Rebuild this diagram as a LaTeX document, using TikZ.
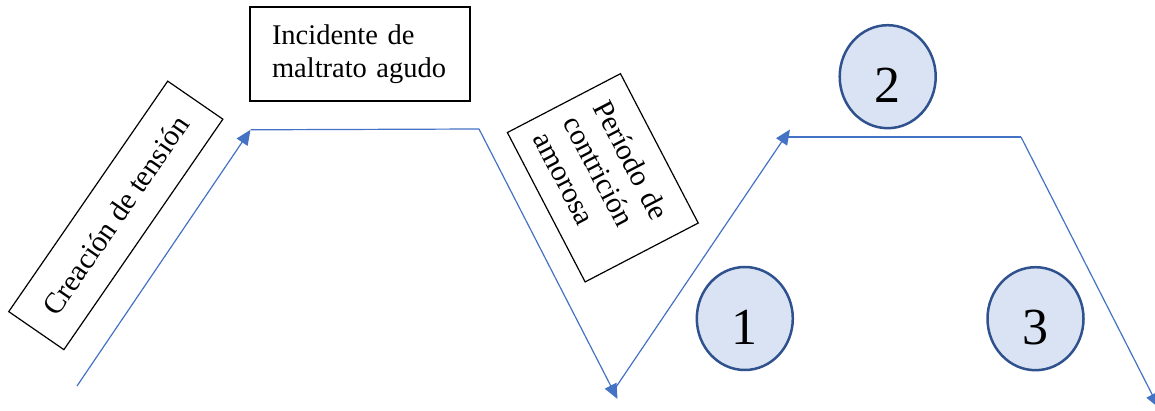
\documentclass[tikz,border=0pt]{standalone}
\usepackage{fontspec}
\setmainfont{Liberation Serif}
\usetikzlibrary{arrows.meta,shapes.geometric}
\definecolor{lineblue}{HTML}{4472C4}
\definecolor{circfill}{HTML}{DAE3F3}
\definecolor{circdraw}{HTML}{2F528F}
\begin{document}
\begin{tikzpicture}[x=1pt,y=-1pt,
  flow/.style={draw=lineblue, line width=1.2pt},
  flowarrow/.style={flow, -{Triangle[length=15pt,width=13pt]}},
  labelbox/.style={draw=black, line width=1.2pt, inner ysep=0pt, align=left,
    font=\fontsize{28.5}{33}\selectfont},
  rotbox/.style={labelbox, font=\fontsize{29.5}{34}\selectfont},
  phase/.style={ellipse, draw=circdraw, fill=circfill, line width=2.5pt,
    minimum width=96pt, minimum height=103pt, inner sep=0pt,
    text height=52pt, text depth=0pt, font=\fontsize{52}{60}\selectfont}
]
\useasboundingbox (0,0) rectangle (1155,411);

% label boxes
\node[rotbox, rotate=55.4, minimum width=280pt, minimum height=67pt, inner xsep=0pt, align=center]
  (tension) at (115.8,215.4) {Creación de tensión};
\node[labelbox, minimum width=220pt, minimum height=94pt, inner xsep=22pt, text width=176pt]
  (incidente) at (360,54) {Incidente de\\maltrato agudo};
\node[rotbox, rotate=-62.5, minimum width=168.4pt, minimum height=127.5pt, inner xsep=17pt, text width=134.4pt]
  (contricion) at (602.8,177.8) {Período de\\contrición\\amorosa};

% phase circles
\node[phase] (p1) at (744.8,318.5) {1};
\node[phase] (p2) at (887.7,76.7) {2};
\node[phase] (p3) at (1035.5,318.7) {3};

% cycle connectors
\coordinate (a0) at (77,386);
\coordinate (a1) at (250.5,129.8);
\coordinate (a2) at (479,129);
\coordinate (a3) at (617.5,399);
\coordinate (b0) at (614,390);
\coordinate (b1) at (790,129.5);
\coordinate (b2) at (786,137);
\coordinate (b3) at (1021,137);
\coordinate (b4) at (1159,408);

\draw[flowarrow] (a0) -- (a1);
\draw[flow] (a1) -- (a2);
\draw[flowarrow] (a2) -- (a3);
\draw[flowarrow] (b0) -- (b1);
\draw[flow] (b2) -- (b3);
\draw[flowarrow] (b3) -- (b4);
\end{tikzpicture}
\end{document}
